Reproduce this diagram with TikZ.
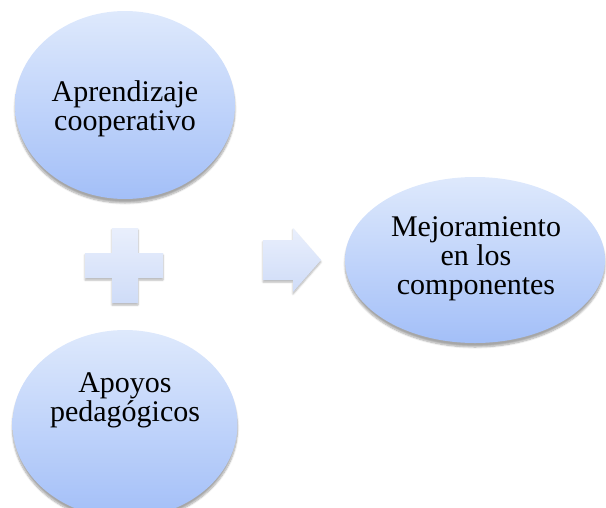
\documentclass[tikz,border=0pt]{standalone}
\usepackage{fontspec}
\setmainfont{Liberation Serif}
\usetikzlibrary{shapes.geometric,shadows.blur}
\definecolor{eltop}{HTML}{DEE9FC}
\definecolor{elbot}{HTML}{A3BFF8}
\definecolor{optop}{HTML}{E9EFFC}
\definecolor{opbot}{HTML}{CFDCF8}
\tikzset{
  bubble/.style={ellipse, draw=none, inner sep=0pt, top color=eltop, bottom color=elbot,
    blur shadow={shadow xshift=0pt, shadow yshift=-4pt, shadow blur steps=8, shadow opacity=35}},
  optext/.style={align=center, font=\fontsize{30}{29}\selectfont, text=black},
  opshape/.style={draw=none, top color=optop, bottom color=opbot,
    blur shadow={shadow xshift=0pt, shadow yshift=-2pt, shadow blur steps=5, shadow opacity=30}}
}
\begin{document}
\begin{tikzpicture}[x=1pt,y=-1pt]
\useasboundingbox (0,0) rectangle (606,507);
\node[bubble, minimum width=220pt, minimum height=188pt] (e1) at (125,105) {};
\node[optext] (t1) at (125,109) {Aprendizaje\\cooperativo};
\node[bubble, minimum width=225pt, minimum height=188pt] (e2) at (125,424) {};
\node[optext] (t2) at (125,400) {Apoyos\\pedag\'ogicos};
\node[bubble, minimum width=260pt, minimum height=166pt] (e3) at (475,260) {};
\node[optext] (t3) at (476,259) {Mejoramiento\\en los\\componentes};
% plus
\path[opshape] (112,228) -- (138,228) -- (138,253) -- (163,253) -- (163,278) -- (138,278)
  -- (138,303) -- (112,303) -- (112,278) -- (85,278) -- (85,253) -- (112,253) -- cycle;
% arrow
\path[opshape] (263,240) -- (293,240) -- (293,228) -- (321,260) -- (293,292) -- (293,280)
  -- (263,280) -- cycle;
\end{tikzpicture}
\end{document}
